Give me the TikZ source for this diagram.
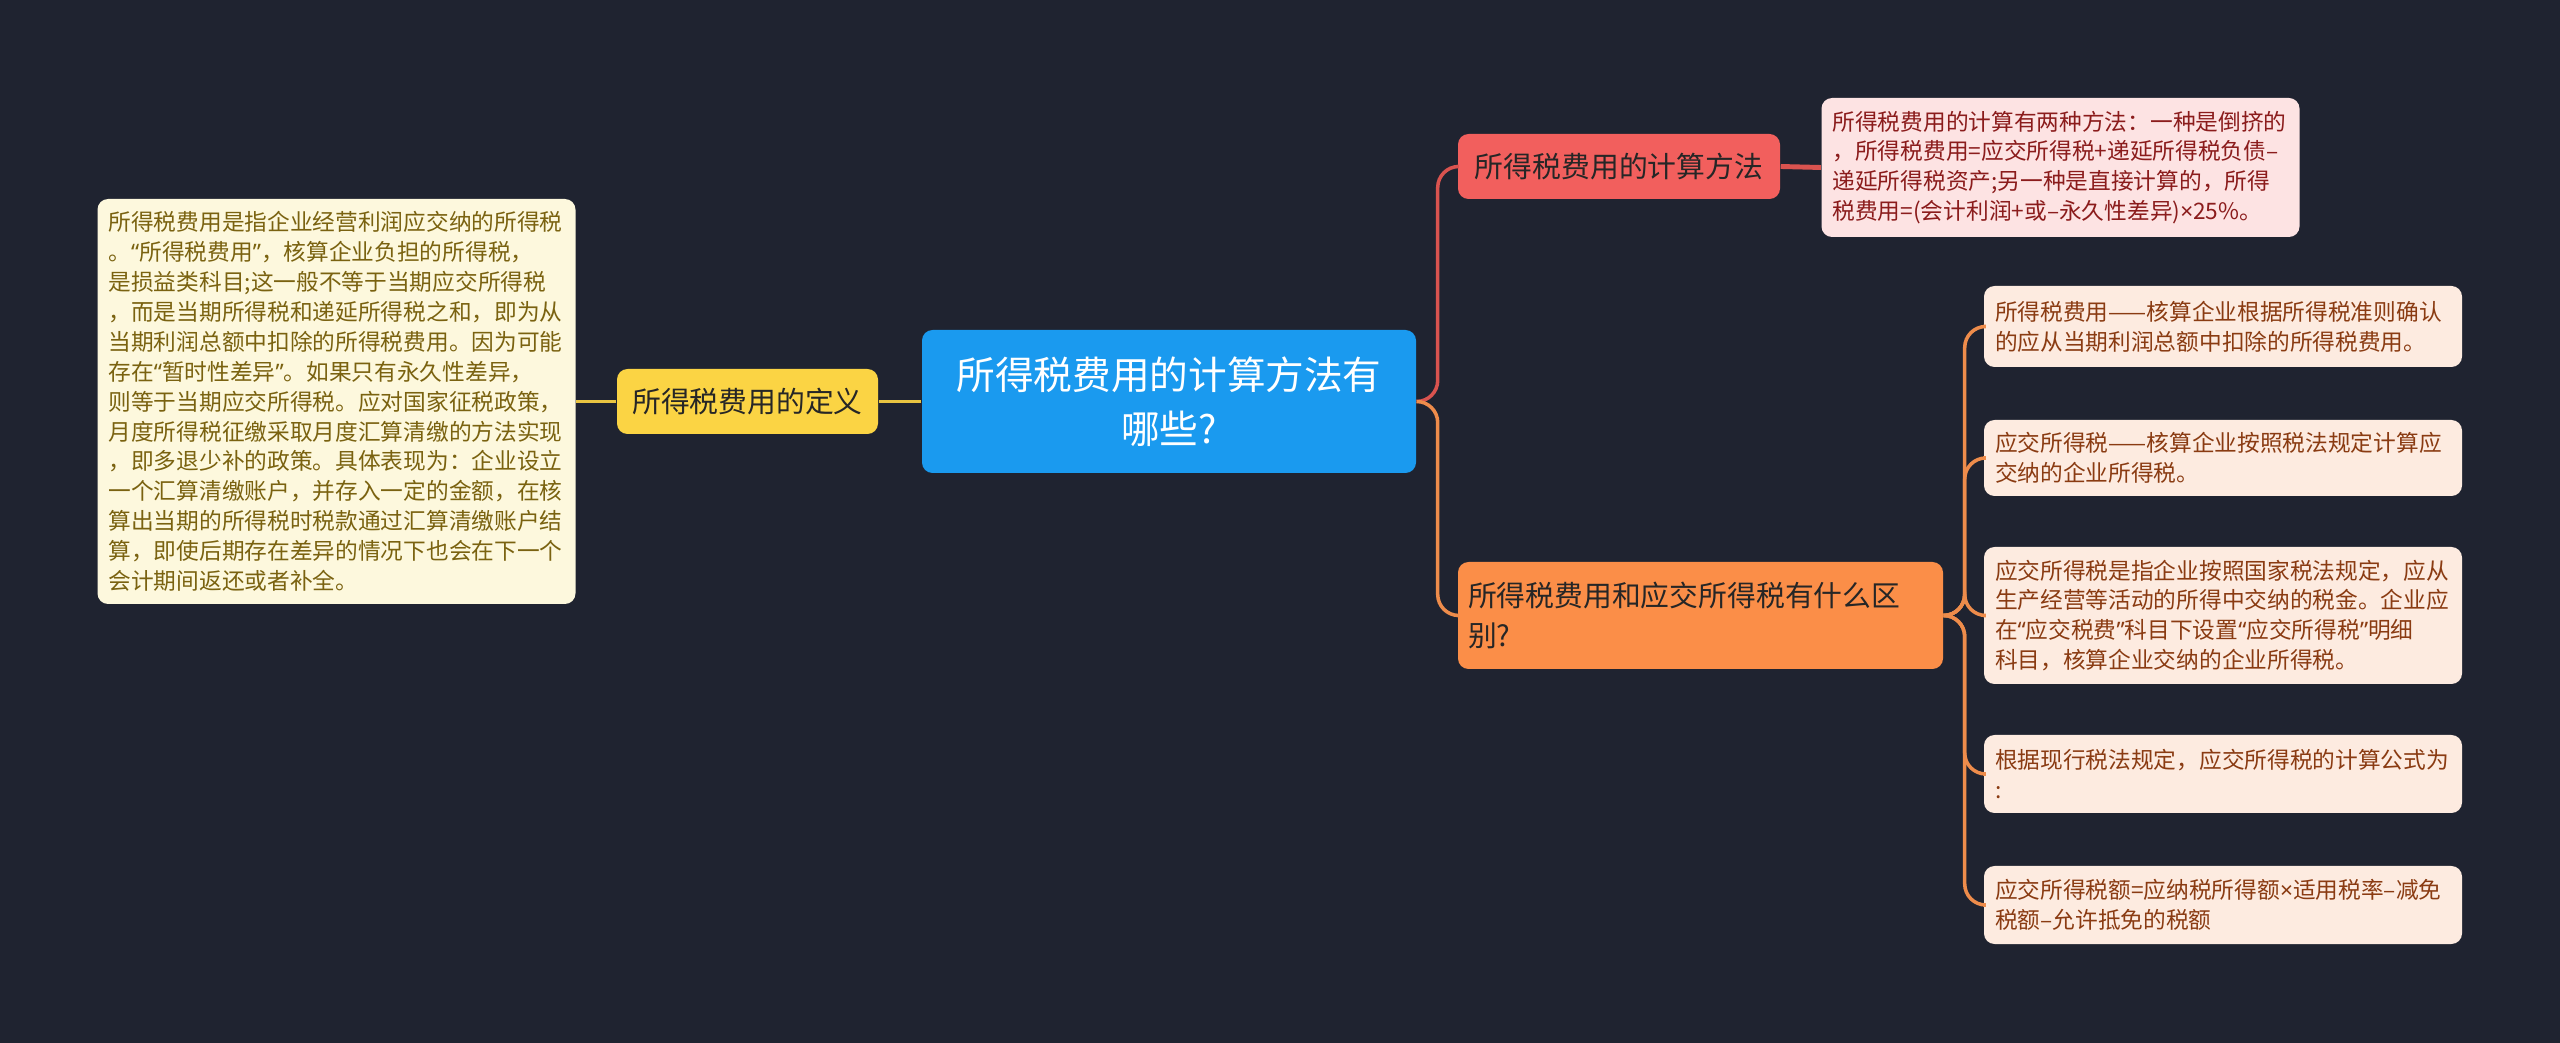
\documentclass[tikz,border=0pt]{standalone}
\usepackage{fontspec}
\setmainfont{Noto Sans CJK SC}
\newfontfamily\narrowq{Noto Sans}
\newcommand\oq{{\narrowq “}}
\newcommand\cq{{\narrowq ”}}
\newcommand\tms{{\narrowq ×}}
\usetikzlibrary{positioning}
\definecolor{Night}{HTML}{1F2330}
\definecolor{Sky}{HTML}{1A9AEF}
\definecolor{Sun}{HTML}{FBD444}
\definecolor{SunLine}{HTML}{E9C441}
\definecolor{Cream}{HTML}{FDF8DD}
\definecolor{Olive}{HTML}{7A6210}
\definecolor{Coral}{HTML}{F25F5D}
\definecolor{CoralLine}{HTML}{D9534F}
\definecolor{Blush}{HTML}{FDE3E3}
\definecolor{Wine}{HTML}{8B1C1C}
\definecolor{Tangerine}{HTML}{FB8E48}
\definecolor{TangLine}{HTML}{EE8C4B}
\definecolor{Peach}{HTML}{FDEBE0}
\definecolor{Rust}{HTML}{8A3B12}

\begin{document}
\begin{tikzpicture}[
    topic/.style={rounded corners=3pt,inner sep=0pt,align=left,
      font=\fontsize{8.2}{11.6}\selectfont,text=black!85},
    note/.style={rounded corners=3pt,inner xsep=0.11cm,inner ysep=0pt,align=left,
      text width=4.56cm,font=\fontsize{6.46}{8.5}\selectfont},
    yline/.style={SunLine,line width=1pt},
    rline/.style={CoralLine,line width=1pt,rounded corners=6pt},
    oline/.style={TangLine,line width=1pt,rounded corners=6pt}
  ]
    \fill[Night] (0,0) rectangle (25.6,-10.43);
    % centre
    \node[fill=Sky,rounded corners=3pt,minimum width=4.94cm,minimum height=1.43cm,
      align=center,text=white,font=\fontsize{11}{15.4}\selectfont] (root)
      at (11.69,-4.015) {所得税费用的计算方法有\\哪些?};
    % left branch
    \node[topic,fill=Sun,minimum width=2.61cm,minimum height=0.65cm,align=center]
      (def) at (7.475,-4.015) {所得税费用的定义};
    \node[note,fill=Cream,text=Olive,minimum height=4.05cm] (deftext) at (3.365,-4.015)
      {所得税费用是指企业经营利润应交纳的所得税\\
       。\oq 所得税费用\cq ，核算企业负担的所得税，\\
       是损益类科目;这一般不等于当期应交所得税\\
       ，而是当期所得税和递延所得税之和，即为从\\
       当期利润总额中扣除的所得税费用。因为可能\\
       存在\oq 暂时性差异\cq 。如果只有永久性差异，\\
       则等于当期应交所得税。应对国家征税政策，\\
       月度所得税征缴采取月度汇算清缴的方法实现\\
       ，即多退少补的政策。具体表现为：企业设立\\
       一个汇算清缴账户，并存入一定的金额，在核\\
       算出当期的所得税时税款通过汇算清缴账户结\\
       算，即使后期存在差异的情况下也会在下一个\\
       会计期间返还或者补全。};
    % right branches
    \node[topic,fill=Coral,minimum width=3.22cm,minimum height=0.65cm,align=center]
      (calc) at (16.19,-1.665) {所得税费用的计算方法};
    \node[note,fill=Blush,text=Wine,minimum height=1.39cm] (calctext) at (20.605,-1.675)
      {所得税费用的计算有两种方法：一种是倒挤的\\
       ，所得税费用=应交所得税+递延所得税负债–\\
       递延所得税资产;另一种是直接计算的，所得\\
       税费用=(会计利润+或–永久性差异)\tms 25\%。};
    \node[topic,fill=Tangerine,text width=4.65cm,minimum height=1.07cm,
      inner xsep=0.1cm] (diff) at (17.005,-6.155)
      {所得税费用和应交所得税有什么区\\别?};
    \foreach \i/\y/\h/\txt in {
      1/-3.265/0.81/{所得税费用——核算企业根据所得税准则确认\\的应从当期利润总额中扣除的所得税费用。},
      2/-4.58/0.76/{应交所得税——核算企业按照税法规定计算应\\交纳的企业所得税。},
      3/-6.155/1.37/{应交所得税是指企业按照国家税法规定，应从\\生产经营等活动的所得中交纳的税金。企业应\\在\oq 应交税费\cq 科目下设置\oq 应交所得税\cq 明细\\科目，核算企业交纳的企业所得税。},
      4/-7.74/0.78/{根据现行税法规定，应交所得税的计算公式为\\:},
      5/-9.05/0.78/{应交所得税额=应纳税所得额\tms 适用税率–减免\\税额–允许抵免的税额}}{
      \node[note,fill=Peach,text=Rust,minimum height=\h cm] (b\i) at (22.23,\y) {\txt};
    }
    % connectors
    \draw[yline] (root.west) -- (def.east);
    \draw[yline] (def.west) -- (deftext.east);
    \draw[rline] (root.east) -- ++(0.21,0) |- (calc.west);
    \draw[oline] (root.east) -- ++(0.21,0) |- (diff.west);
    \draw[CoralLine,line width=1.4pt] (calc.east) -- (calctext.west);
    \foreach \i in {1,...,5}{
      \draw[oline] (diff.east) -- ++(0.21,0) |- (b\i.west);
    }
  \end{tikzpicture}
\end{document}
